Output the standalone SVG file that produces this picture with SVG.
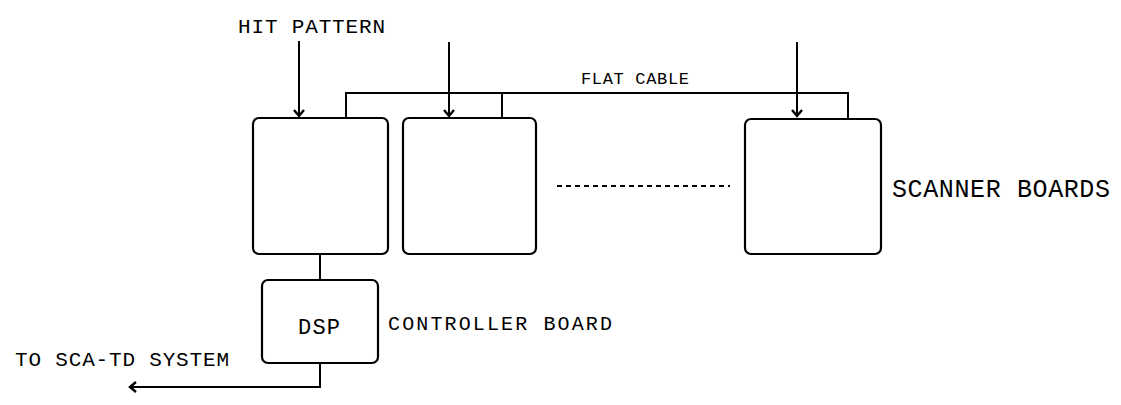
<svg xmlns="http://www.w3.org/2000/svg" width="1121" height="405" viewBox="0 0 1121 405">
<style>
.box{fill:#fff;stroke:#000;stroke-width:2.2}
.ln{fill:none;stroke:#000;stroke-width:2}
.ah{fill:none;stroke:#000;stroke-width:2.4;stroke-linejoin:miter}
.t{font-family:"Liberation Mono","Courier New",monospace;fill:#000}
</style>
<rect width="1121" height="405" fill="#fff"/>
<g id="connectors">
<path class="ln" d="M346,118 V93 H848 V118"/>
<path class="ln" d="M502,93 V118"/>
<path class="ln" d="M299,41 V116"/>
<path class="ah" d="M294,110 L299,116 L304,110"/>
<path class="ln" d="M449,42 V116"/>
<path class="ah" d="M444,110 L449,116 L454,110"/>
<path class="ln" d="M797,42 V116"/>
<path class="ah" d="M792,110 L797,116 L802,110"/>
<path class="ln" d="M320,254 V280"/>
<path class="ln" d="M320,363 V387 H130"/>
<path class="ah" d="M136,382 L130,387 L136,392"/>
<path d="M557,186 H730" fill="none" stroke="#000" stroke-width="2" stroke-dasharray="5,4"/>
</g>
<g id="board1"><rect class="box" x="253" y="118" width="135" height="136" rx="6"/></g>
<g id="board2"><rect class="box" x="403" y="118" width="133" height="136" rx="6"/></g>
<g id="board3"><rect class="box" x="745" y="119" width="136" height="135" rx="6"/></g>
<g id="dsp"><rect class="box" x="262" y="280" width="116" height="83" rx="6"/>
<text class="t" x="298" y="334" font-size="22" textLength="42" lengthAdjust="spacing">DSP</text></g>
<g id="labels">
<text class="t" x="238" y="33" font-size="21" textLength="147" lengthAdjust="spacing">HIT PATTERN</text>
<text class="t" x="581" y="84" font-size="17" textLength="108" lengthAdjust="spacing">FLAT CABLE</text>
<text class="t" x="892" y="197" font-size="25" textLength="218" lengthAdjust="spacing">SCANNER BOARDS</text>
<text class="t" x="388" y="330" font-size="20" textLength="224" lengthAdjust="spacing">CONTROLLER BOARD</text>
<text class="t" x="15" y="366" font-size="21" textLength="214" lengthAdjust="spacing">TO SCA-TD SYSTEM</text>
</g>
</svg>
